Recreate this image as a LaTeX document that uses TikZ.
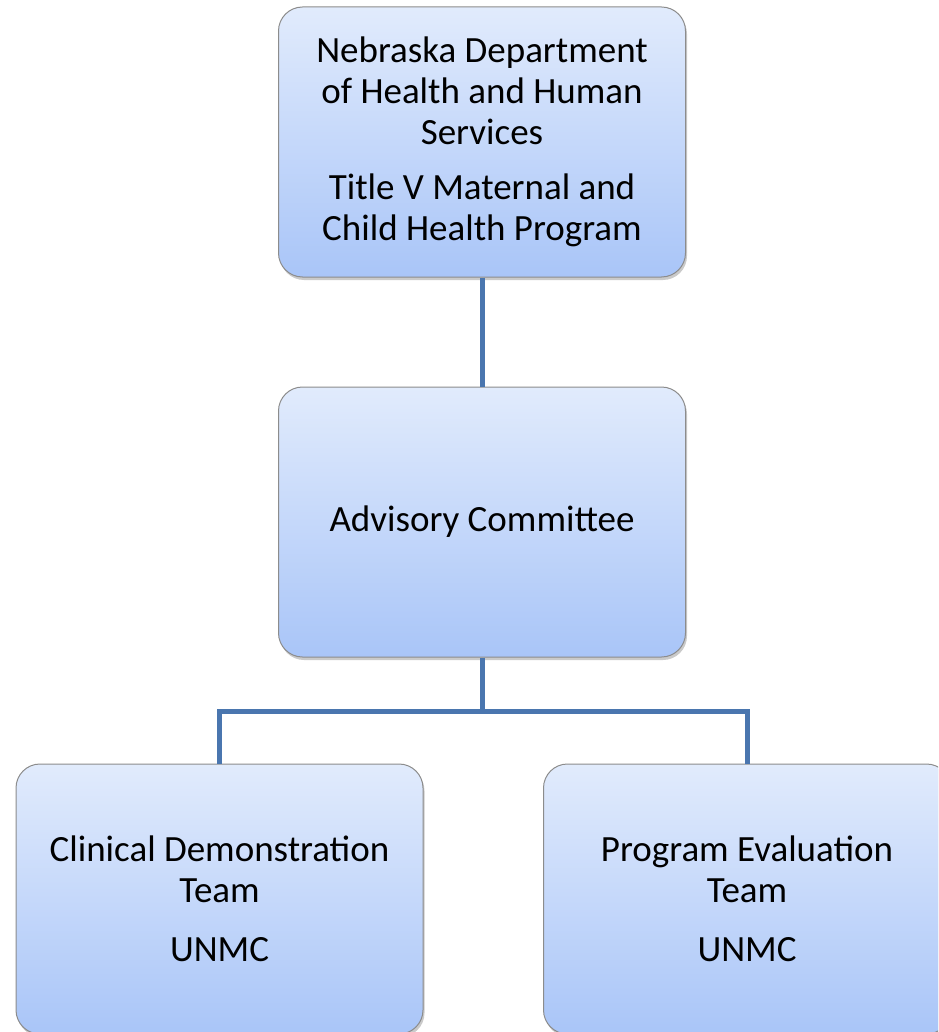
\documentclass[tikz,border=0pt]{standalone}
\usepackage{fontspec}
\setmainfont{Carlito}
\usetikzlibrary{shadows}
\definecolor{boxtop}{HTML}{E1EBFC}
\definecolor{boxbot}{HTML}{A9C5F8}
\definecolor{boxline}{HTML}{8C8C8C}
\definecolor{conncol}{HTML}{4A76AF}
\tikzset{
  orgbox/.style={rectangle, rounded corners=24pt, draw=boxline, line width=1pt,
    top color=boxtop, bottom color=boxbot,
    drop shadow={shadow xshift=1.5pt, shadow yshift=-3pt, opacity=0.35, fill=black!60},
    minimum width=407pt, minimum height=270pt, align=center,
    font=\fontsize{37}{41}\selectfont, inner sep=0pt},
  conn/.style={draw=conncol, line width=5pt}
}
\begin{document}
\begin{tikzpicture}[x=1pt,y=1pt]
\useasboundingbox (0,0) rectangle (938,-1032);
\clip (0,0) rectangle (938,-1032);
\node[orgbox] (top) at (482,-142) {Nebraska Department\\of Health and Human\\Services\\[14pt]Title V Maternal and\\Child Health Program};
\node[orgbox] (mid) at (482,-522) {Advisory Committee};
\draw[conn] (top.south) -- (mid.north);
\node[orgbox] (left) at (219.5,-899) {Clinical Demonstration\\Team\\[18pt]UNMC};
\node[orgbox] (right) at (747,-899) {Program Evaluation\\Team\\[18pt]UNMC};
\coordinate (j) at (482,-711);
\draw[conn] (mid.south) -- (j);
\draw[conn] (left.north) -- (left.north |- j) -- (right.north |- j) -- (right.north);
\end{tikzpicture}
\end{document}
